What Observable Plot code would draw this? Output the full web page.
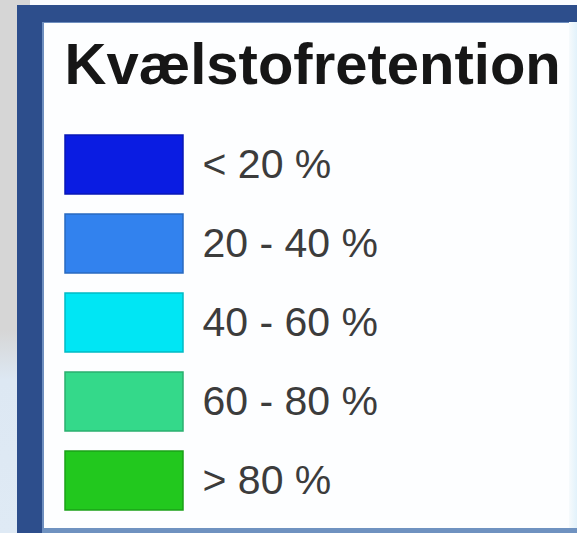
<!DOCTYPE html>
<html>
<head>
<meta charset="utf-8">
<script src="https://cdn.jsdelivr.net/npm/d3@7"></script>
<script src="https://cdn.jsdelivr.net/npm/@observablehq/plot@0.6"></script>
<style>
  html, body { margin: 0; padding: 0; overflow: hidden; }
  body { width: 577px; height: 533px; position: relative;
         background: linear-gradient(180deg, #d6d6d6 0px, #d6d6d6 330px, #dde8f3 380px, #dfeaf5 533px); }
  #topstrip { position: absolute; left: 30px; top: 0; width: 547px; height: 5px; background: #fafcff; }
  #panel { position: absolute; left: 17px; top: 5px; width: 560px; height: 528px; background: #2d4e8c; }
  #inner { position: absolute; left: 25px; top: 17px; width: 535px; height: 511px;
           background: #fdfeff; border-left: 2px solid #6f8fbf; border-top: 1px solid #6f8fbf;
           border-bottom: 5px solid #6f92c0; box-sizing: border-box; }
  #rightstrip { position: absolute; left: 569px; top: 22px; width: 8px; height: 506px;
                background: linear-gradient(90deg, #f6fafc, #e2f2fb); z-index: 5; }
  #chart { position: absolute; left: 0; top: 0; z-index: 10; }
</style>
</head>
<body>
<div id="topstrip"></div>
<div id="panel"><div id="inner"></div></div>
<div id="rightstrip"></div>
<div id="chart"></div>
<script>
const title = "Kvælstofretention";
const classes = ["< 20 %", "20 - 40 %", "40 - 60 %", "60 - 80 %", "> 80 %"];
const colors = ["#0a1ce2", "#3282ee", "#00e6f4", "#34d98a", "#22c81e"];

const rows = classes.map((c, i) => ({label: c, color: colors[i], key: "swatch"}));

const chart = Plot.plot({
  width: 577,
  height: 533,
  margin: 0,
  style: {background: "transparent"},
  x: {type: "band", domain: ["swatch"], range: [65, 183], padding: 0, axis: null},
  y: {type: "band", domain: classes, range: [133, 512], paddingInner: 0.25, paddingOuter: 0, axis: null},
  marks: [
    Plot.cell(rows, {
      x: "key", y: "label",
      fill: d => d.color,
      stroke: d => d3.color(d.color).darker(0.6).formatHex(),
      strokeWidth: 1.5,
      inset: 0
    }),
    Plot.text(rows, {
      y: "label",
      text: "label",
      frameAnchor: "left",
      dx: 202,
      textAnchor: "start",
      fill: "#3c3c3c",
      fontSize: 41,
      fontFamily: "Liberation Sans, Arial, sans-serif"
    }),
    Plot.text([title], {
      text: d => d,
      frameAnchor: "top-left",
      lineAnchor: "top",
      dx: 64,
      dy: 42,
      textAnchor: "start",
      fill: "#161616",
      fontSize: 58,
      fontWeight: "bold",
      fontFamily: "Liberation Sans, Arial, sans-serif"
    })
  ]
});
document.getElementById("chart").append(chart);
</script>
</body>
</html>
